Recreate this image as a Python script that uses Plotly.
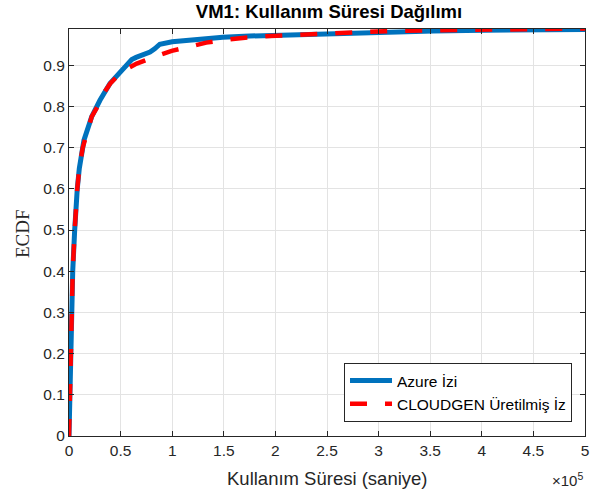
import plotly.graph_objects as go

# Data (x in seconds, y = ECDF)
azure_x = [0, 970, 1600, 2200, 3600, 5500, 6500, 8000, 10000, 13300, 14500, 22000, 30000,
           39700, 51000, 56000, 60800, 65000, 70000, 78500, 83000, 85000, 88000, 100000, 120000,
           149000, 175000, 202000, 250000, 301000, 353000, 401000, 450000, 500000]
azure_y = [0, 0.1, 0.2, 0.3, 0.4, 0.5, 0.55, 0.6, 0.65, 0.7, 0.718, 0.775, 0.815,
           0.856, 0.888, 0.904, 0.914, 0.919, 0.924, 0.932, 0.94, 0.944, 0.951, 0.957, 0.962,
           0.968, 0.971, 0.973, 0.977, 0.980, 0.983, 0.985, 0.986, 0.987]

cloudgen_x = [0, 970, 1600, 2200, 3600, 5500, 6500, 8000, 10000, 13300, 22000, 30000,
              33000, 40000, 51000, 65600, 83300, 99500, 117000, 133000, 153000, 170500,
              195000, 230000, 255000, 280000, 310000, 350000, 380000, 420000, 460000, 500000]
cloudgen_y = [0, 0.1, 0.2, 0.3, 0.4, 0.5, 0.55, 0.6, 0.65, 0.7, 0.775, 0.81,
              0.83, 0.856, 0.884, 0.904, 0.921, 0.935, 0.945, 0.955, 0.962, 0.967,
              0.971, 0.975, 0.979, 0.981, 0.983, 0.985, 0.986, 0.987, 0.988, 0.989]

x_tick_vals = [0, 50000, 100000, 150000, 200000, 250000, 300000, 350000, 400000, 450000, 500000]
x_tick_text = ["0", "0.5", "1", "1.5", "2", "2.5", "3", "3.5", "4", "4.5", "5"]
y_tick_vals = [0, 0.1, 0.2, 0.3, 0.4, 0.5, 0.6, 0.7, 0.8, 0.9]
y_tick_text = ["0", "0.1", "0.2", "0.3", "0.4", "0.5", "0.6", "0.7", "0.8", "0.9"]

series_names = ["Azure İzi", "CLOUDGEN Üretilmiş İz"]

fig = go.Figure()
fig.add_trace(go.Scatter(x=azure_x, y=azure_y, mode="lines", name=series_names[0],
                         line=dict(color="#0072BD", width=5)))
fig.add_trace(go.Scatter(x=cloudgen_x, y=cloudgen_y, mode="lines", name=series_names[1],
                         line=dict(color="#FF0000", width=4.5, dash="17px,18px")))

SANS = "Liberation Sans, Arial, Helvetica"
axis_common = dict(showgrid=True, gridcolor="#E3E3E3", gridwidth=1,
                   showline=True, linecolor="#262626", linewidth=1, mirror="ticks",
                   ticks="inside", ticklen=5, tickcolor="#262626",
                   tickfont=dict(family=SANS, size=15.5, color="#262626"),
                   zeroline=False, automargin=False)

fig.update_layout(
    width=598, height=493,
    margin=dict(l=69, r=13, t=29, b=57),
    paper_bgcolor="white", plot_bgcolor="white",
    title=dict(text="<b>VM1: Kullanım Süresi Dağılımı</b>", x=329 / 598, xanchor="center",
               y=1 - 12 / 493, yanchor="middle", automargin=False,
               font=dict(family=SANS, size=18.5, color="black")),
    xaxis=dict(range=[0, 500000], tickvals=x_tick_vals, ticktext=x_tick_text, **axis_common),
    yaxis=dict(range=[0, 0.988], tickvals=y_tick_vals, ticktext=y_tick_text, **axis_common),
    legend=dict(x=(572 - 69) / 516, y=(436 - 422) / 407, xanchor="right", yanchor="bottom",
                bgcolor="white", bordercolor="#262626", borderwidth=1,
                font=dict(family=SANS, size=15.5, color="black"),
                tracegroupgap=0, itemwidth=42),
    showlegend=True,
)

# axis titles
fig.add_annotation(text="Kullanım Süresi (saniye)", xref="paper", yref="paper",
                   x=0.5, y=0, xanchor="center", yanchor="middle", yshift=-42,
                   showarrow=False, font=dict(family=SANS, size=18.5, color="#262626"))
fig.add_annotation(text="ECDF", xref="paper", yref="paper",
                   x=0, y=(436 - 234) / 407, xanchor="center", yanchor="middle", xshift=-47,
                   textangle=-90, showarrow=False,
                   font=dict(family="Liberation Serif, Times New Roman", size=19, color="#262626"))
fig.add_annotation(text="×10<sup>5</sup>", xref="paper", yref="paper", x=1.0, y=0,
                   xanchor="right", yanchor="middle", yshift=-43, showarrow=False,
                   font=dict(family=SANS, size=15, color="#262626"))

fig.write_html("out.html", config={"displayModeBar": False},
               post_script="document.body.style.margin='0';document.body.style.padding='0';")
